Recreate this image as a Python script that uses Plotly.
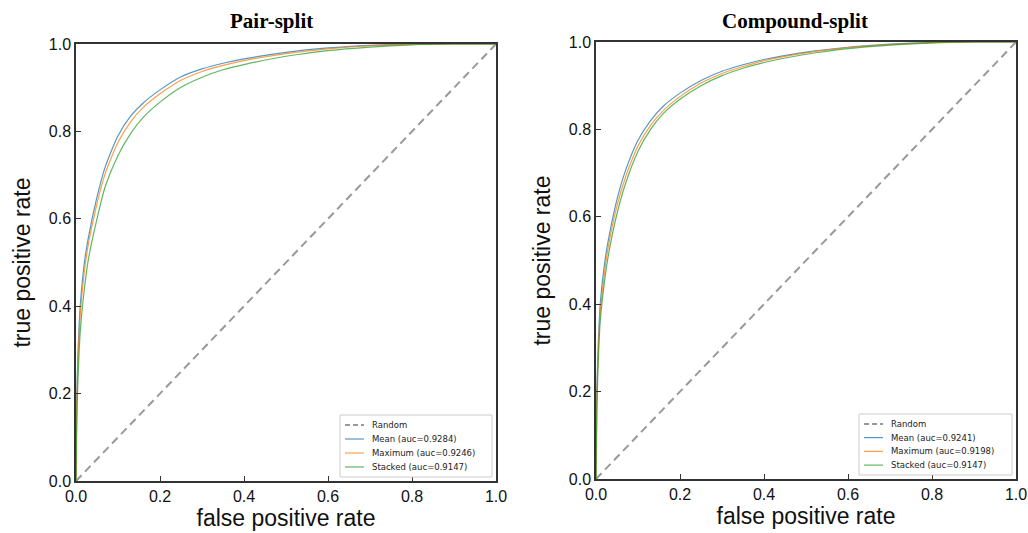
import plotly.graph_objects as go

# ---- data ----
fpr = [0, 0.002, 0.005, 0.01, 0.02, 0.03, 0.05, 0.07, 0.1, 0.13, 0.16, 0.2,
       0.25, 0.3, 0.35, 0.4, 0.5, 0.6, 0.7, 0.8, 0.9, 1.0]

pair_mean = [0, 0.2, 0.3, 0.4, 0.5, 0.56, 0.65, 0.72, 0.79, 0.835, 0.865, 0.895,
             0.925, 0.943, 0.956, 0.966, 0.981, 0.991, 0.997, 1.0, 1.0, 1.0]
pair_max = [0, 0.18, 0.28, 0.38, 0.48, 0.545, 0.635, 0.705, 0.775, 0.822, 0.855, 0.886,
            0.917, 0.937, 0.951, 0.962, 0.978, 0.989, 0.996, 0.999, 1.0, 1.0]
pair_stacked = [0, 0.15, 0.24, 0.34, 0.44, 0.51, 0.6, 0.675, 0.745, 0.795, 0.832, 0.867,
                0.901, 0.924, 0.941, 0.953, 0.972, 0.985, 0.993, 0.998, 1.0, 1.0]

comp_mean = [0, 0.2, 0.3, 0.4, 0.49, 0.55, 0.64, 0.705, 0.775, 0.82, 0.853, 0.883,
             0.912, 0.933, 0.948, 0.96, 0.977, 0.988, 0.995, 0.999, 1.0, 1.0]
comp_max = [0, 0.18, 0.28, 0.38, 0.47, 0.535, 0.625, 0.69, 0.762, 0.809, 0.843, 0.875,
            0.906, 0.928, 0.944, 0.957, 0.975, 0.987, 0.994, 0.998, 1.0, 1.0]
comp_stacked = [0, 0.16, 0.26, 0.36, 0.45, 0.515, 0.607, 0.675, 0.75, 0.8, 0.836, 0.869,
                0.9, 0.923, 0.94, 0.953, 0.972, 0.985, 0.993, 0.998, 1.0, 1.0]

random_line = [0, 1]
titles = ["Pair-split", "Compound-split"]
pair_names = ["Mean (auc=0.9284)", "Maximum (auc=0.9246)", "Stacked (auc=0.9147)"]
comp_names = ["Mean (auc=0.9241)", "Maximum (auc=0.9198)", "Stacked (auc=0.9147)"]
tick_vals = [0, 0.2, 0.4, 0.6, 0.8, 1.0]
tick_text = ["0.0", "0.2", "0.4", "0.6", "0.8", "1.0"]

colors = ["#1f77b4", "#ff7f0e", "#2ca02c"]
RANDOM_COLOR = "#999999"
W, H = 1028, 533

fig = go.Figure()

# panel geometry in pixels: (left, right, top, bottom)
geoms = [(76, 496, 44, 481), (596, 1016, 42, 479)]
# legend box in pixels: (left, right, top, bottom)
leg_boxes = [(340, 492, 415, 477), (859, 1012, 414, 475)]

panels = [
    ("x", "y", pair_names, [pair_mean, pair_max, pair_stacked]),
    ("x2", "y2", comp_names, [comp_mean, comp_max, comp_stacked]),
]
for xa, ya, names, series in panels:
    fig.add_trace(go.Scatter(x=random_line, y=random_line, mode="lines", name="Random",
                             line=dict(color=RANDOM_COLOR, width=2, dash="8px,5px"),
                             xaxis=xa, yaxis=ya, showlegend=False))
    for nm, s, c in zip(names, series, colors):
        fig.add_trace(go.Scatter(x=fpr, y=s, mode="lines", name=nm,
                                 line=dict(color=c, width=1.2, shape="spline", smoothing=0.6),
                                 opacity=0.75, xaxis=xa, yaxis=ya, showlegend=False))


def px_x(p):
    return p / W


def px_y(p):
    return 1 - p / H


axis_common = dict(range=[0, 1], tickmode="array", tickvals=tick_vals, ticktext=tick_text,
                   ticks="inside", ticklen=5, tickcolor="#333", showline=True,
                   linecolor="#333", linewidth=1.5, mirror=True, showgrid=False,
                   zeroline=False, automargin=False,
                   tickfont=dict(family="Liberation Sans", size=16, color="#111"))
title_font = dict(family="Liberation Sans", size=23, color="#111")

layout_axes = {}
for i, (l, r, t, b) in enumerate(geoms):
    sfx = "" if i == 0 else str(i + 1)
    layout_axes["xaxis" + sfx] = dict(domain=[px_x(l), px_x(r)], anchor="y" + sfx,
                                      title=dict(text="false positive rate", standoff=5,
                                                 font=title_font), **axis_common)
    layout_axes["yaxis" + sfx] = dict(domain=[px_y(b), px_y(t)], anchor="x" + sfx,
                                      title=dict(text="true positive rate", standoff=12,
                                                 font=title_font), **axis_common)

fig.update_layout(
    width=W, height=H, autosize=False,
    margin=dict(l=0, r=0, t=0, b=0, autoexpand=False),
    plot_bgcolor="white", paper_bgcolor="white",
    showlegend=False,
    **layout_axes,
)

# titles
for t, cx in zip(titles, [271, 795]):
    fig.add_annotation(text="<b>%s</b>" % t, x=px_x(cx), y=px_y(21), xref="paper", yref="paper",
                       showarrow=False, xanchor="center", yanchor="middle",
                       font=dict(family="Liberation Serif", size=21, color="#000"))

# legends (matplotlib style, compact)
for (l, r, t, b), names in zip(leg_boxes, [pair_names, comp_names]):
    fig.add_shape(type="rect", xref="paper", yref="paper",
                  x0=px_x(l), x1=px_x(r), y0=px_y(b), y1=px_y(t),
                  line=dict(color="#cccccc", width=1), fillcolor="rgba(255,255,255,0.9)")
    labels = ["Random"] + names
    lcolors = [RANDOM_COLOR] + colors
    dashes = ["5px,3px", "solid", "solid", "solid"]
    row_h = (b - t - 6) / 4.0
    for k, (lab, c, d) in enumerate(zip(labels, lcolors, dashes)):
        yc = t + 3 + row_h * (k + 0.5)
        fig.add_shape(type="line", xref="paper", yref="paper",
                      x0=px_x(l + 5), x1=px_x(l + 24), y0=px_y(yc), y1=px_y(yc),
                      line=dict(color=c, width=2 if k == 0 else 1.2, dash=d),
                      opacity=1 if k == 0 else 0.75)
        fig.add_annotation(text=lab, x=px_x(l + 30), y=px_y(yc), xref="paper", yref="paper",
                           showarrow=False, xanchor="left", yanchor="middle",
                           font=dict(family="DejaVu Sans", size=8.5, color="#222"))

fig.write_html("out.html", config={"displayModeBar": False},
               post_script="document.body.style.margin='0';document.body.style.overflow='hidden';")
